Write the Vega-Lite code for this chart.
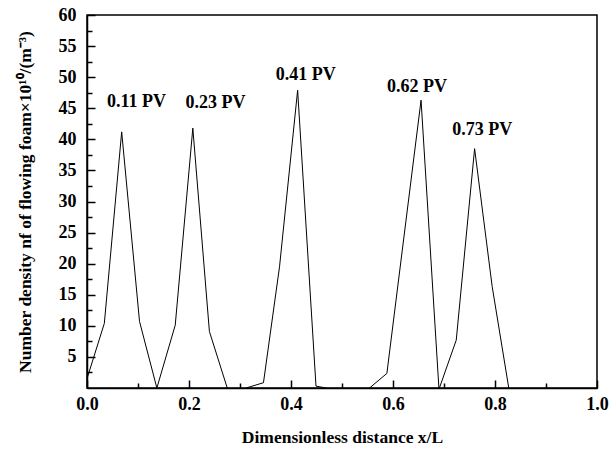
{
  "$schema": "https://vega.github.io/schema/vega-lite/v6.json",
  "autosize": {"type": "none"},
  "padding": {"left": 87, "top": 15, "right": 14, "bottom": 64},
  "width": 510,
  "height": 373,
  "background": "white",
  "config": {
    "view": {"stroke": "black", "strokeWidth": 1.5},
    "font": "Liberation Serif",
    "axis": {
      "domainColor": "black",
      "domainWidth": 1.5,
      "tickColor": "black",
      "tickWidth": 1.5,
      "grid": false,
      "labelFont": "Liberation Serif",
      "labelFontWeight": "bold",
      "labelFontSize": 18,
      "labelColor": "black",
      "titleFont": "Liberation Serif",
      "titleFontWeight": "bold",
      "titleFontSize": 17.5,
      "titleColor": "black"
    }
  },
  "datasets": {
    "curves": [
      {"series": "0.11 PV", "x": 0.0, "y": 1.5},
      {"series": "0.11 PV", "x": 0.034, "y": 10.4},
      {"series": "0.11 PV", "x": 0.068, "y": 41.2},
      {"series": "0.11 PV", "x": 0.103, "y": 10.7},
      {"series": "0.11 PV", "x": 0.137, "y": 0.0},
      {"series": "0.23 PV", "x": 0.137, "y": 0.0},
      {"series": "0.23 PV", "x": 0.173, "y": 10.1},
      {"series": "0.23 PV", "x": 0.2075, "y": 41.8},
      {"series": "0.23 PV", "x": 0.240, "y": 9.1},
      {"series": "0.23 PV", "x": 0.275, "y": 0.0},
      {"series": "0.41 PV", "x": 0.312, "y": 0.0},
      {"series": "0.41 PV", "x": 0.346, "y": 0.85},
      {"series": "0.41 PV", "x": 0.3775, "y": 19.5},
      {"series": "0.41 PV", "x": 0.413, "y": 47.9},
      {"series": "0.41 PV", "x": 0.449, "y": 0.3},
      {"series": "0.41 PV", "x": 0.469, "y": 0.0},
      {"series": "0.62 PV", "x": 0.554, "y": 0.0},
      {"series": "0.62 PV", "x": 0.588, "y": 2.35},
      {"series": "0.62 PV", "x": 0.655, "y": 46.3},
      {"series": "0.62 PV", "x": 0.690, "y": 0.0},
      {"series": "0.73 PV", "x": 0.691, "y": 0.0},
      {"series": "0.73 PV", "x": 0.724, "y": 7.7},
      {"series": "0.73 PV", "x": 0.760, "y": 38.5},
      {"series": "0.73 PV", "x": 0.7945, "y": 16.3},
      {"series": "0.73 PV", "x": 0.827, "y": 0.0}
    ],
    "labels": [
      {"label": "0.11 PV", "x": 0.097, "y": 46.0},
      {"label": "0.23 PV", "x": 0.252, "y": 45.8},
      {"label": "0.41 PV", "x": 0.429, "y": 50.4},
      {"label": "0.62 PV", "x": 0.647, "y": 48.4},
      {"label": "0.73 PV", "x": 0.775, "y": 41.5}
    ]
  },
  "resolve": {"axis": {"x": "independent", "y": "independent"}},
  "layer": [
    {
      "data": {"name": "curves"},
      "mark": {"type": "line", "color": "black", "strokeWidth": 1},
      "encoding": {
        "x": {
          "field": "x", "type": "quantitative",
          "scale": {"domain": [0, 1], "nice": false, "zero": false},
          "axis": {
            "orient": "bottom",
            "title": "Dimensionless distance x/L",
            "values": [0, 0.2, 0.4, 0.6, 0.8, 1.0],
            "format": ".1f",
            "tickSize": -8,
            "labelPadding": 15,
            "titlePadding": 15,
            "labelFlush": false,
            "labelOverlap": false
          }
        },
        "y": {
          "field": "y", "type": "quantitative",
          "scale": {"domain": [0, 60], "nice": false},
          "axis": {
            "orient": "left",
            "title": "Number density nf of flowing foam×10¹⁰/(m⁻³)",
            "values": [5, 10, 15, 20, 25, 30, 35, 40, 45, 50, 55, 60],
            "format": "d",
            "tickSize": -8,
            "labelPadding": 19,
            "titlePadding": 24,
            "labelFlush": false,
            "labelOverlap": false
          }
        },
        "detail": {"field": "series", "type": "nominal"}
      }
    },
    {
      "data": {"name": "labels"},
      "mark": {"type": "text", "font": "Liberation Serif", "fontWeight": "bold", "fontSize": 18, "color": "black", "align": "center", "baseline": "middle"},
      "encoding": {
        "x": {
          "field": "x", "type": "quantitative",
          "axis": {"orient": "bottom", "values": [0.1, 0.3, 0.5, 0.7, 0.9], "labels": false, "domain": false, "title": null, "tickSize": -5}
        },
        "y": {
          "field": "y", "type": "quantitative",
          "axis": {"orient": "left", "values": [2.5, 7.5, 12.5, 17.5, 22.5, 27.5, 32.5, 37.5, 42.5, 47.5, 52.5, 57.5], "labels": false, "domain": false, "title": null, "tickSize": -5}
        },
        "text": {"field": "label", "type": "nominal"}
      }
    }
  ]
}
